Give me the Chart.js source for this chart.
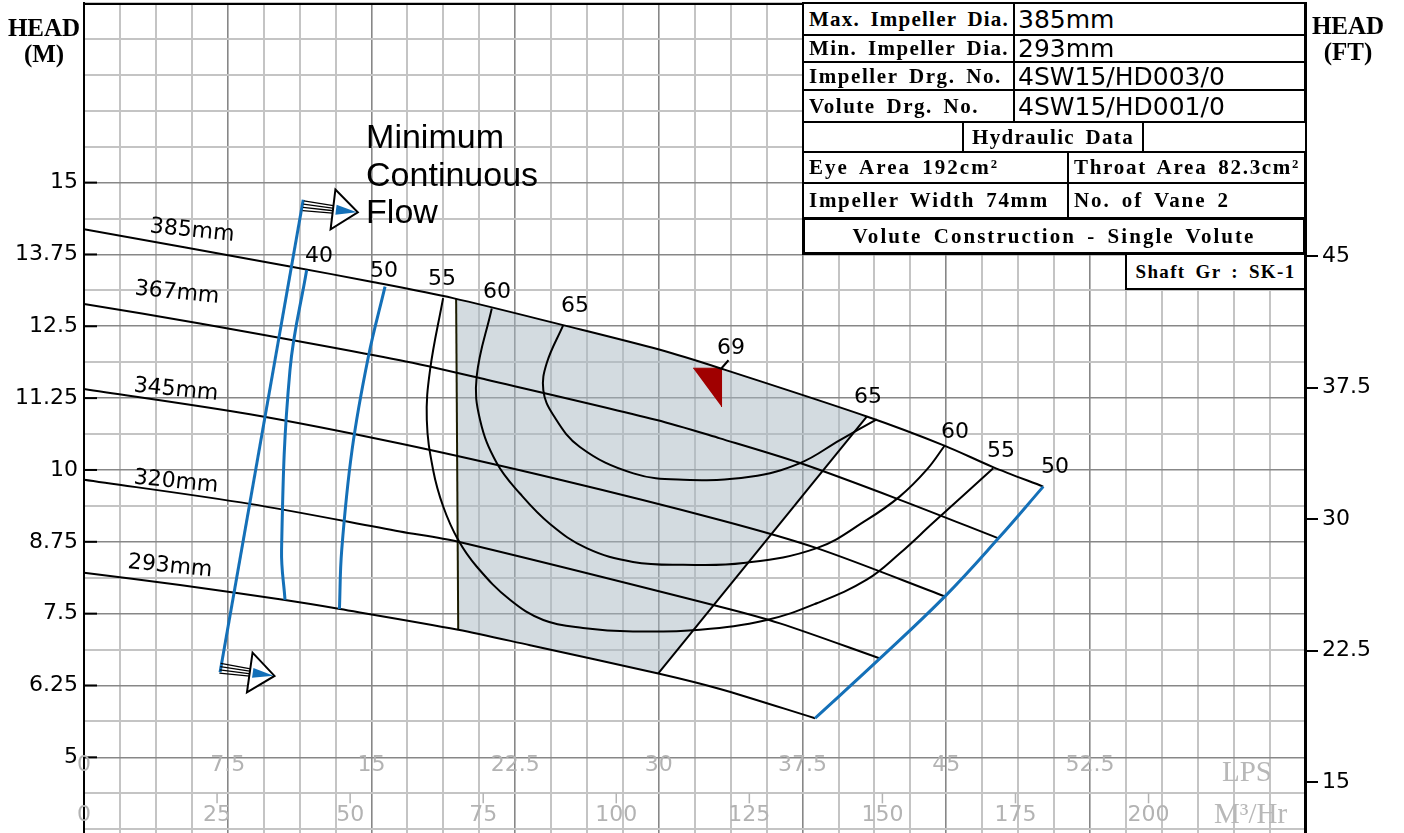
<!DOCTYPE html>
<html>
<head>
<meta charset="utf-8">
<script src="https://cdn.jsdelivr.net/npm/chart.js@4.4.1/dist/chart.umd.min.js"></script>
<style>
  html, body { margin: 0; padding: 0; background: #fff; }
  #wrap { position: relative; width: 1404px; height: 833px; overflow: hidden; }
  #chart { position: absolute; left: 0; top: 0; }
  .ttl { position: absolute; font-family: "Liberation Serif", serif; font-weight: bold; font-size: 25px; line-height: 26px; text-align: center; }
  .unit { position: absolute; font-family: "Liberation Serif", serif; font-size: 29px; line-height: 29px; color: #b8b8b8; white-space: nowrap; }
  .cell { position: absolute; box-sizing: border-box; border: 2px solid #000; background: #fff;
          font-family: "Liberation Serif", serif; font-weight: bold; font-size: 21px; letter-spacing: 1px; word-spacing: 4px;
          white-space: nowrap; overflow: hidden; display: flex; align-items: center; padding-left: 5px; }
  .val { font-family: "DejaVu Sans", sans-serif; font-weight: normal; font-size: 25px; letter-spacing: 0; word-spacing: 0; padding-left: 3px; }
  .mid { justify-content: center; padding-left: 0; }
</style>
</head>
<body>
<div id="wrap">
  <canvas id="chart" width="1404" height="833"></canvas>

  <div class="ttl" style="left:4px;top:15px;width:80px">HEAD<br>(M)</div>
  <div class="ttl" style="left:1308px;top:13px;width:80px">HEAD<br>(FT)</div>
  <div class="unit" style="left:1222px;top:757px">LPS</div>
  <div class="unit" style="left:1214px;top:799px">M³/Hr</div>

  <div class="cell" style="left:802px;top:2px;width:213px;height:34px"><span data-w="200">Max. Impeller Dia.</span></div>
  <div class="cell val" style="left:1013px;top:2px;width:293px;height:34px">385mm</div>
  <div class="cell" style="left:802px;top:34px;width:213px;height:29px"><span data-w="200">Min. Impeller Dia.</span></div>
  <div class="cell val" style="left:1013px;top:34px;width:293px;height:29px">293mm</div>
  <div class="cell" style="left:802px;top:61px;width:213px;height:30px"><span data-w="193">Impeller Drg. No.</span></div>
  <div class="cell val" style="left:1013px;top:61px;width:293px;height:30px">4SW15/HD003/0</div>
  <div class="cell" style="left:802px;top:89px;width:213px;height:34px"><span data-w="170">Volute Drg. No.</span></div>
  <div class="cell val" style="left:1013px;top:89px;width:293px;height:34px">4SW15/HD001/0</div>
  <div class="cell" style="left:802px;top:121px;width:162px;height:32px"></div>
  <div class="cell mid" style="left:962px;top:121px;width:182px;height:32px"><span data-w="162">Hydraulic Data</span></div>
  <div class="cell" style="left:1142px;top:121px;width:165px;height:32px"></div>
  <div class="cell" style="left:802px;top:151px;width:267px;height:33px"><span data-w="190">Eye Area 192cm²</span></div>
  <div class="cell" style="left:1067px;top:151px;width:239px;height:33px"><span data-w="226">Throat Area 82.3cm²</span></div>
  <div class="cell" style="left:802px;top:182px;width:267px;height:37px"><span data-w="240">Impeller Width 74mm</span></div>
  <div class="cell" style="left:1067px;top:182px;width:239px;height:37px"><span data-w="156">No. of Vane 2</span></div>
  <div class="cell mid" style="left:802px;top:217px;width:504px;height:38px;border-width:3px"><span data-w="403">Volute Construction - Single Volute</span></div>
  <div class="cell mid" style="left:1125px;top:253px;width:181px;height:37px;font-size:19px"><span data-w="160">Shaft Gr : SK-1</span></div>
</div>

<script>
// pump performance chart, flow in LPS / head in m
const M_TO_FT = 3.28084;
const M3H_PER_LPS = 3.6;

// tick labels
const headTicksM = [5, 6.25, 7.5, 8.75, 10, 11.25, 12.5, 13.75, 15];
const headTicksFt = [15, 22.5, 30, 37.5, 45];
const flowTicksLps = [0, 7.5, 15, 22.5, 30, 37.5, 45, 52.5];
const flowTicksM3h = [0, 25, 50, 75, 100, 125, 150, 175, 200];

// head curves per impeller diameter [LPS, m]
const dia385 = [[0,14.19],[10.75,13.54],[14.93,13.28],[19.26,12.99],[25.0,12.52],[30.06,12.09],[33.19,11.77],[40.85,10.93],[44.93,10.42],[47.44,10.05],[50.06,9.71]];
const dia367 = [[0,12.89],[6.05,12.55],[16.49,11.91],[21.02,11.57],[29.89,10.87],[33.19,10.55],[37.37,10.12],[42.58,9.48],[47.72,8.81]];
const dia345 = [[0,11.41],[8.66,10.97],[16.49,10.46],[24.84,9.83],[33.19,9.13],[38.24,8.64],[44.93,7.80]];
const dia320 = [[0,9.83],[8.66,9.41],[16.49,8.93],[19.53,8.75],[33.19,7.62],[36.32,7.33],[41.54,6.72]];
const dia293 = [[0,8.21],[5.01,8.00],[10.40,7.74],[13.36,7.58],[19.53,7.22],[23.28,6.95],[29.97,6.46],[33.19,6.19],[38.15,5.68]];

// efficiency iso-lines (%)
const eff40 = [[11.62,13.48],[10.75,11.74],[10.31,8.61],[10.49,7.74]];
const eff50 = [[15.71,13.19],[14.84,11.97],[13.99,10.35],[13.45,8.61],[13.33,7.58]];
const eff55 = [[18.74,12.99],[18.06,11.74],[17.89,10.87],[18.22,10.00],[18.75,9.36],[19.53,8.78],[20.49,8.32],[22.23,7.74],[23.97,7.39],[26.04,7.25],[28.65,7.19],[32.15,7.22],[35.63,7.39],[38.24,7.68],[40.85,8.09],[42.58,8.55],[44.31,9.08],[45.87,9.55],[47.45,10.03]];
const eff60 = [[21.28,12.81],[20.49,11.62],[20.67,10.87],[21.54,10.12],[22.75,9.59],[24.32,9.06],[26.23,8.64],[28.65,8.40],[31.26,8.35],[34.41,8.38],[38.24,8.64],[40.85,9.13],[42.58,9.54],[43.97,10.00],[44.93,10.43]];
const eff65 = [[25.01,12.52],[24.15,11.86],[23.97,11.39],[24.48,10.96],[25.88,10.40],[28.67,9.94],[31.28,9.83],[34.76,9.88],[37.37,10.12],[39.45,10.52],[41.37,10.88]];

// end of curve (run-out) and minimum continuous flow
const runout = [[38.15,5.68],[41.54,6.72],[44.93,7.80],[47.72,8.81],[50.06,9.71]];
const mcf = [[7.10,6.48],[11.44,14.70]];

// preferred operating region
const zoneLeft = [[19.42,12.98],[19.53,7.22]];
const zoneRight = [[29.97,6.46],[40.85,10.93]];
const zone = [[19.42,12.98],[25.0,12.52],[30.06,12.09],[33.19,11.77],[40.85,10.93],[29.97,6.46],[23.28,6.95],[19.53,7.22]];
const bep = [[31.79,11.77],[33.27,11.77],[33.27,11.10]];

// text anchors [text, LPS, m]
const diaLabels = [['385mm',5.64,14.16],['367mm',4.85,13.08],['345mm',4.80,11.39],['320mm',4.80,9.79],['293mm',4.49,8.32]];
const effLabels = [['40',12.26,13.71],['50',15.66,13.46],['55',18.68,13.32],['60',21.55,13.10],['65',25.62,12.85],['69',33.76,12.11],
                   ['65',40.91,11.27],['60',45.45,10.66],['55',47.86,10.33],['50',50.67,10.05]];
const mcfText = ['Minimum', 'Continuous', 'Flow'];

const Y_MIN = 3.683, Y_MAX = 18.125, X_MAX = 63.72;
const LIGHT = '#c4c4c4', DARK = '#878787';
const BLUE = '#1470b8';

const pts = arr => arr.map(([x, y]) => ({x, y}));
const line = (arr, color, width, extra) => Object.assign(
  {data: pts(arr), borderColor: color, borderWidth: width, pointRadius: 0, tension: 0.4, fill: false}, extra || {});

const datasets = [
  line(mcf, BLUE, 3, {tension: 0}),
  line(eff40, BLUE, 3),
  line(eff50, BLUE, 3),
  line(runout, BLUE, 3),
  line(dia385, '#000', 2, {tension: 0.3}),
  line(dia367, '#000', 2, {tension: 0.3}),
  line(dia345, '#000', 2, {tension: 0.3}),
  line(dia320, '#000', 2, {tension: 0.3}),
  line(dia293, '#000', 2, {tension: 0.3}),
  line(eff55, '#000', 2),
  line(eff60, '#000', 2),
  line(eff65, '#000', 2),
  line(zoneLeft, '#1c1c00', 2, {tension: 0}),
  line(zoneRight, '#000', 2, {tension: 0}),
  line(bep, '#a00000', 1, {tension: 0, fill: 'shape', backgroundColor: '#a00000'}),
  line(zone, 'rgba(0,0,0,0)', 0, {tension: 0, fill: 'shape', backgroundColor: 'rgba(167,183,193,0.5)', order: 10})
];

const within = (list, v) => list.some(t => Math.abs(t - v) < 1e-6);

const annotations = {
  id: 'annotations',
  afterDatasetsDraw(chart) {
    const {ctx, chartArea: area, scales: {x, y}} = chart;
    const px = v => x.getPixelForValue(v);
    const py = v => y.getPixelForValue(v);
    ctx.save();

    // top frame and inner ticks of the metre scale
    ctx.strokeStyle = '#000';
    ctx.lineWidth = 2;
    ctx.beginPath(); ctx.moveTo(area.left, area.top + 1); ctx.lineTo(area.right, area.top + 1); ctx.stroke();
    headTicksM.forEach(v => {
      ctx.beginPath(); ctx.moveTo(area.left, py(v)); ctx.lineTo(area.left + 13, py(v)); ctx.stroke();
    });

    // flow scales printed inside the grid
    const base = py(5);
    ctx.fillStyle = '#b3b3b3';
    ctx.strokeStyle = '#b3b3b3';
    ctx.lineWidth = 1.5;
    ctx.font = '22px "DejaVu Sans"';
    ctx.textAlign = 'center';
    ctx.textBaseline = 'middle';
    flowTicksLps.forEach(v => ctx.fillText(String(v), px(v), base + 8));
    flowTicksM3h.forEach(v => {
      const xx = px(v / M3H_PER_LPS);
      if (v > 0) { ctx.beginPath(); ctx.moveTo(xx, base + 36); ctx.lineTo(xx, base + 46); ctx.stroke(); }
      ctx.fillText(String(v), xx, base + 58);
    });

    // curve labels
    ctx.fillStyle = '#000';
    diaLabels.forEach(([t, q, h]) => {
      ctx.save(); ctx.translate(px(q), py(h)); ctx.rotate(0.1); ctx.fillText(t, 0, 0); ctx.restore();
    });
    effLabels.forEach(([t, q, h]) => ctx.fillText(t, px(q), py(h)));

    // BEP leader
    ctx.strokeStyle = '#000';
    ctx.lineWidth = 2;
    ctx.beginPath(); ctx.moveTo(px(bep[1][0]), py(bep[1][1])); ctx.lineTo(px(bep[1][0]) + 7, py(bep[1][1]) - 8); ctx.stroke();

    // minimum continuous flow arrows + note
    const arrow = (q, h, dy, ang) => {
      ctx.save();
      ctx.translate(px(q), py(h) + dy);
      ctx.rotate(ang);
      ctx.strokeStyle = '#000';
      ctx.lineWidth = 1.3;
      for (let i = 0; i < 4; i++) {
        ctx.beginPath(); ctx.moveTo(0, -5 + i * 3.3); ctx.lineTo(33, -3.6 + i * 2.4); ctx.stroke();
      }
      ctx.beginPath(); ctx.moveTo(30, -20); ctx.lineTo(55, 0); ctx.lineTo(30, 20); ctx.closePath();
      ctx.fillStyle = '#fff'; ctx.fill();
      ctx.lineWidth = 2; ctx.stroke();
      ctx.beginPath(); ctx.moveTo(33, -5); ctx.lineTo(54, 0); ctx.lineTo(33, 5); ctx.closePath();
      ctx.fillStyle = BLUE; ctx.fill();
      ctx.restore();
    };
    arrow(mcf[1][0], mcf[1][1], 6, 0.12);
    arrow(mcf[0][0], mcf[0][1], -4, 0.14);

    ctx.fillStyle = '#000';
    ctx.font = '34px "Liberation Sans"';
    ctx.textAlign = 'left';
    ctx.textBaseline = 'alphabetic';
    mcfText.forEach((t, i) => ctx.fillText(t, px(14.72), py(15.60) + i * 37.5));

    ctx.restore();
  }
};

new Chart(document.getElementById('chart'), {
  type: 'line',
  data: {datasets},
  plugins: [annotations],
  options: {
    responsive: false,
    animation: false,
    devicePixelRatio: 1,
    layout: {padding: {top: 3}},
    plugins: {legend: {display: false}, tooltip: {enabled: false}},
    scales: {
      x: {
        type: 'linear', min: 0, max: X_MAX,
        afterBuildTicks(s) { s.ticks = []; for (let v = 0; v <= X_MAX; v += 1.875) s.ticks.push({value: v}); },
        afterFit(s) { s.height = 0; s.paddingLeft = 0; s.paddingRight = 0; },
        ticks: {display: false},
        border: {display: false},
        grid: {
          drawTicks: false,
          color: c => (c.tick.value > 0 && within(flowTicksLps, c.tick.value)) ? DARK : LIGHT,
          lineWidth: c => (c.tick.value > 0 && within(flowTicksLps, c.tick.value)) ? 1.6 : 2
        }
      },
      y: {
        type: 'linear', position: 'left', min: Y_MIN, max: Y_MAX,
        afterBuildTicks(s) { s.ticks = []; for (let v = 3.75; v <= Y_MAX + 1e-9; v += 0.625) s.ticks.push({value: v}); },
        afterFit(s) { s.width = 84; s.paddingTop = 0; s.paddingBottom = 0; },
        ticks: {
          padding: 6, color: '#000', font: {family: 'DejaVu Sans', size: 22},
          callback: v => within(headTicksM, v) ? String(v) : ''
        },
        border: {color: '#000', width: 2},
        grid: {
          drawTicks: false,
          color: c => within(headTicksM, c.tick.value) ? DARK : LIGHT,
          lineWidth: c => within(headTicksM, c.tick.value) ? 1.6 : 2
        }
      },
      yft: {
        type: 'linear', position: 'right', min: Y_MIN * M_TO_FT, max: Y_MAX * M_TO_FT,
        afterBuildTicks(s) { s.ticks = headTicksFt.map(v => ({value: v})); },
        afterFit(s) { s.width = 99; s.paddingTop = 0; s.paddingBottom = 0; },
        ticks: {padding: 4, color: '#000', font: {family: 'DejaVu Sans', size: 22}, callback: v => String(v)},
        border: {color: '#000', width: 3},
        grid: {drawOnChartArea: false, tickLength: 13, color: '#000', tickColor: '#000', lineWidth: 2}
      }
    }
  }
});

// stretch the data-sheet captions to the widths of the drawing
document.querySelectorAll('span[data-w]').forEach(s => {
  const target = +s.dataset.w;
  const n = s.textContent.length;
  s.style.letterSpacing = '0px';
  const w = s.getBoundingClientRect().width;
  s.style.letterSpacing = ((target - w) / n).toFixed(2) + 'px';
});
</script>
</body>
</html>
